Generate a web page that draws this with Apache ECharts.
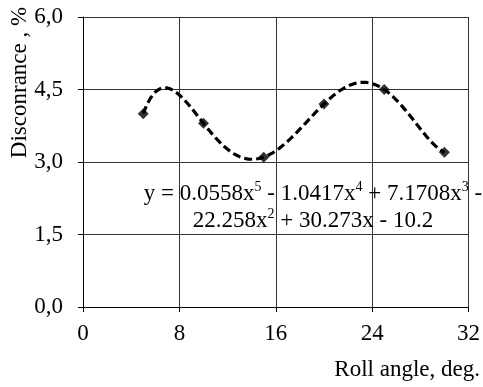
<!DOCTYPE html>
<html>
<head>
<meta charset="utf-8">
<script src="https://cdn.jsdelivr.net/npm/echarts@6/dist/echarts.min.js"></script>
<style>
  html, body { margin: 0; padding: 0; background: #fff; }
  #chart { width: 483px; height: 387px; }
</style>
</head>
<body>
<div id="chart"></div>
<script>
// Measured disconrance against roll angle
const rollAngles = [5, 10, 15, 20, 25, 30];
const disconrance = [4.0, 3.8, 3.1, 4.2, 4.5, 3.2];

// Axis ticks
const xTicks = [0, 8, 16, 24, 32];
const yTicks = [0, 1.5, 3.0, 4.5, 6.0];

// Trend equation as printed on the chart
const equationText = 'y = 0.0558x{s|5} - 1.0417x{s|4} + 7.1708x{s|3} -\n22.258x{s|2} + 30.273x - 10.2';

const FONT = "'Liberation Serif', 'Times New Roman', serif";

// Degree-5 polynomial trend through the six measurements (Lagrange form)
function trendAt(x) {
  let sum = 0;
  for (let i = 0; i < rollAngles.length; i++) {
    let term = disconrance[i];
    for (let j = 0; j < rollAngles.length; j++) {
      if (j !== i) term *= (x - rollAngles[j]) / (rollAngles[i] - rollAngles[j]);
    }
    sum += term;
  }
  return sum;
}
const trendData = [];
const xStart = rollAngles[0], xEnd = rollAngles[rollAngles.length - 1];
for (let k = 0; k <= 200; k++) {
  const x = xStart + (xEnd - xStart) * k / 200;
  trendData.push([x, trendAt(x)]);
}

const chart = echarts.init(document.getElementById('chart'), null, { renderer: 'canvas' });
chart.setOption({
  animation: false,
  backgroundColor: '#fff',
  grid: { left: 83, right: 11, top: 17, bottom: 80, containLabel: false },
  xAxis: {
    type: 'value',
    min: xTicks[0],
    max: xTicks[xTicks.length - 1],
    interval: xTicks[1] - xTicks[0],
    axisLine: { show: true, lineStyle: { color: '#000', width: 1 } },
    axisTick: { show: true, inside: false, length: 5, lineStyle: { color: '#000' } },
    axisLabel: { color: '#000', fontFamily: FONT, fontSize: 23, lineHeight: 23, margin: 15 },
    splitLine: { show: true, lineStyle: { color: '#333', width: 1 } }
  },
  yAxis: {
    type: 'value',
    min: yTicks[0],
    max: yTicks[yTicks.length - 1],
    interval: yTicks[1] - yTicks[0],
    axisLine: { show: true, lineStyle: { color: '#000', width: 1 } },
    axisTick: { show: true, inside: false, length: 5, lineStyle: { color: '#000' } },
    axisLabel: {
      color: '#000', fontFamily: FONT, fontSize: 23, margin: 20,
      formatter: v => v.toFixed(1).replace('.', ',')
    },
    splitLine: { show: true, lineStyle: { color: '#333', width: 1 } }
  },
  series: [
    {
      name: 'trend',
      type: 'line',
      data: trendData,
      showSymbol: false,
      smooth: false,
      z: 2,
      lineStyle: { color: '#000', width: 3.2, type: [8, 4], cap: 'butt' }
    },
    {
      name: 'disconrance',
      type: 'scatter',
      data: rollAngles.map((x, i) => [x, disconrance[i]]),
      symbol: 'diamond',
      symbolSize: 11,
      z: 3,
      itemStyle: { color: '#000' }
    }
  ],
  graphic: [
    {
      type: 'text',
      x: 20, y: 82.5,
      rotation: Math.PI / 2,
      style: {
        text: 'Disconrance , %',
        fill: '#000',
        font: '23px ' + FONT,
        align: 'center',
        verticalAlign: 'middle'
      }
    },
    {
      type: 'text',
      x: 480, y: 370,
      style: {
        text: 'Roll angle, deg.',
        fill: '#000',
        font: '23px ' + FONT,
        align: 'right',
        verticalAlign: 'middle'
      }
    },
    {
      type: 'text',
      x: 313, y: 207,
      z: 10,
      style: {
        text: equationText,
        fill: '#000',
        fontFamily: FONT,
        fontSize: 23,
        lineHeight: 27,
        align: 'center',
        verticalAlign: 'middle',
        rich: {
          s: { fontFamily: FONT, fontSize: 14, lineHeight: 21, verticalAlign: 'top', fill: '#000' }
        }
      }
    }
  ]
});
</script>
</body>
</html>
